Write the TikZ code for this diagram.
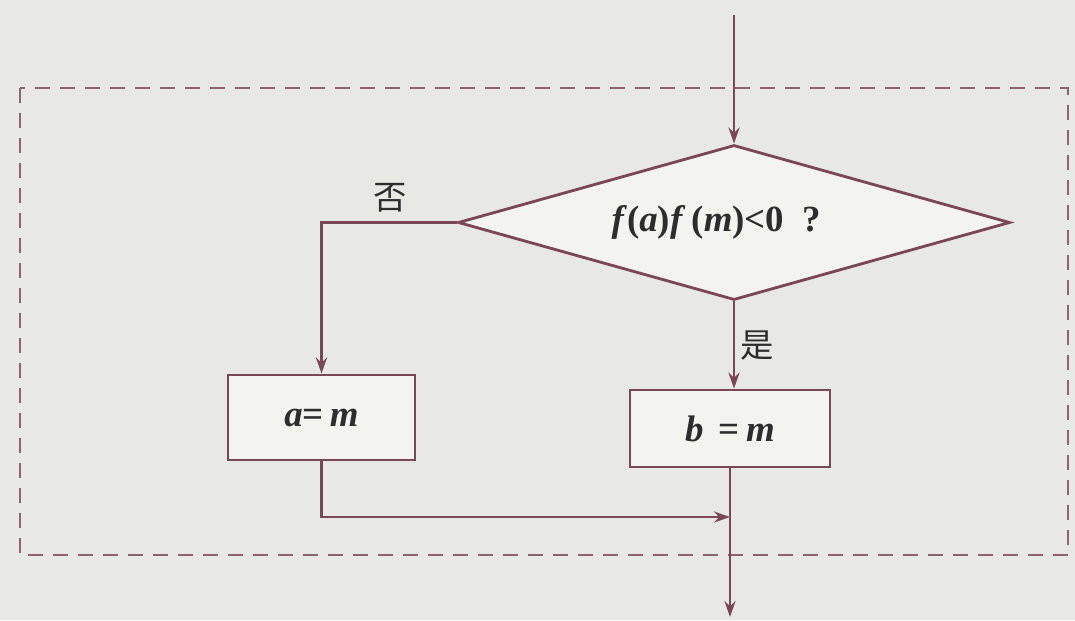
\documentclass[tikz,border=0pt]{standalone}
\usepackage{fontspec}
\setmainfont{Liberation Serif}
\newfontfamily\cjk{Noto Sans CJK SC}
\usetikzlibrary{shapes.geometric,arrows.meta}
\definecolor{flowline}{RGB}{122,72,82}
\definecolor{paper}{RGB}{232,232,229}
\definecolor{boxfill}{RGB}{243,243,240}
\definecolor{inkgray}{RGB}{45,45,45}
\newcommand{\bi}[1]{\textit{#1}}

\begin{document}
\begin{tikzpicture}[
  flow/.style={line width=0.8pt, flowline, -{Stealth[length=1.6mm,width=1.1mm]}},
  process/.style={draw=flowline, line width=0.8pt, fill=boxfill, text=inkgray,
    font=\fontsize{10.5}{12}\selectfont\bfseries},
  decision/.style={diamond, aspect=3.56, draw=flowline, line width=0.8pt, fill=boxfill, text=inkgray,
    minimum width=5.52cm, minimum height=1.55cm, inner sep=0pt,
    font=\fontsize{10.5}{12}\selectfont\bfseries},
  answer/.style={text=inkgray, font=\cjk\fontsize{9.5}{11}\selectfont},
  loopframe/.style={draw=flowline!85, line width=0.8pt, dash pattern=on 1.5mm off 1mm}
]
  % Paper and the dashed frame round the loop body
  \fill[paper] (0,0) rectangle (10.75,-6.2);
  \draw[loopframe] (0.2,-0.88) rectangle (10.68,-5.55);

  % Test and the two assignments
  \node[decision] (test) at (7.34,-2.225) {\bi{f}(\bi{a})\bi{f}\,(\bi{m})<0\ \ ?\hspace*{0.35cm}};
  \node[process, minimum width=1.87cm, minimum height=0.85cm] (seta) at (3.215,-4.175) {\bi{a}=\,\bi{m}};
  \node[process, minimum width=2.0cm, minimum height=0.77cm] (setb) at (7.30,-4.285) {\bi{b}\, =\,\bi{m}};

  % Branch labels
  \node[answer] (no) at (3.9,-1.98) {否};
  \node[answer] (yes) at (7.57,-3.45) {是};

  % Free ends of the flow
  \coordinate (entry) at (7.34,-0.15);
  \coordinate (merge) at (7.30,-5.17);
  \coordinate (exit) at (7.30,-6.17);

  % Connectors
  \draw[flow] (entry) -- (test.north);
  \draw[flow] (test.west) -| (seta.north);
  \draw[flow] (test.south) -- (test.south |- setb.north);
  \draw[flow] (seta.south) |- (merge);
  \draw[flow] (setb.south) -- (exit);

\end{tikzpicture}
\end{document}
